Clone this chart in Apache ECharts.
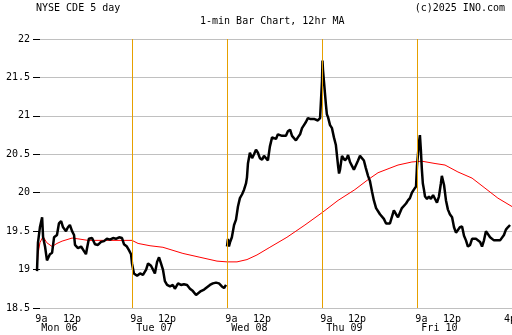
<!DOCTYPE html>
<html><head><meta charset="utf-8">
<script src="https://cdn.jsdelivr.net/npm/echarts@6/dist/echarts.min.js"></script>
<style>html,body{margin:0;padding:0;background:#fff}#c{width:512px;height:335px}</style>
</head><body><div id="c"></div>
<script>
// x values are trading-minute indices counted from Mon 9:30 (390 minutes per session)
const dayNames = ['Mon 06', 'Tue 07', 'Wed 08', 'Thu 09', 'Fri 10'];
const sessionMinutes = 390;
const sessionStarts = [390, 780, 1170, 1560];
const yMin = 18.5, yMax = 22, yStep = 0.5;

const priceMon = [[0,18.98],[4,19.35],[12,19.55],[21,19.68],[25,19.42],[33,19.3],[41,19.12],[45,19.1],[53,19.2],[62,19.22],[70,19.42],[82,19.45],[90,19.6],[99,19.63],[107,19.55],[119,19.5],[127,19.55],[135,19.58],[144,19.5],[152,19.45],[156,19.32],[168,19.28],[181,19.3],[193,19.24],[201,19.2],[205,19.27],[213,19.4],[226,19.41],[238,19.33],[250,19.32],[263,19.36],[275,19.37],[287,19.4],[300,19.39],[312,19.41],[324,19.4],[337,19.42],[349,19.41],[357,19.33],[369,19.3],[378,19.25],[386,19.2]];
const priceTue = [[390,19.08],[398,18.95],[411,18.92],[423,18.95],[435,18.93],[448,19.0],[456,19.08],[468,19.05],[476,19.07],[484,18.95],[493,19.1],[501,19.16],[509,19.08],[517,19.0],[525,18.85],[534,18.8],[546,18.78],[558,18.8],[566,18.75],[579,18.82],[591,18.8],[603,18.81],[616,18.8],[628,18.75],[640,18.72],[653,18.67],[661,18.68],[673,18.72],[686,18.74],[698,18.77],[710,18.8],[722,18.82],[735,18.83],[747,18.82],[759,18.78],[768,18.76],[776,18.8]];
const priceWed = [[780,19.3],[784,19.4],[788,19.3],[792,19.35],[800,19.42],[809,19.58],[817,19.65],[825,19.82],[833,19.93],[842,19.98],[850,20.04],[858,20.12],[862,20.2],[866,20.38],[874,20.52],[883,20.45],[891,20.5],[899,20.56],[907,20.52],[915,20.45],[924,20.43],[932,20.48],[940,20.5],[948,20.42],[956,20.6],[965,20.72],[973,20.73],[981,20.7],[989,20.76],[997,20.78],[1006,20.74],[1014,20.76],[1022,20.74],[1030,20.8],[1039,20.82],[1047,20.74],[1055,20.72],[1063,20.68],[1071,20.72],[1080,20.76],[1088,20.84],[1096,20.88],[1104,20.92],[1112,20.97],[1121,20.96],[1129,20.94],[1137,20.96],[1145,20.95],[1153,20.94],[1162,20.97],[1166,20.98]];
const priceThu = [[1170,21.45],[1172,21.72],[1174,21.6],[1178,21.45],[1182,21.3],[1186,21.15],[1190,21.02],[1195,20.98],[1203,20.88],[1211,20.84],[1219,20.72],[1227,20.62],[1231,20.5],[1236,20.35],[1240,20.25],[1244,20.3],[1252,20.48],[1256,20.5],[1264,20.42],[1272,20.45],[1277,20.49],[1285,20.4],[1293,20.35],[1301,20.3],[1309,20.32],[1318,20.42],[1326,20.48],[1334,20.47],[1342,20.42],[1350,20.32],[1359,20.22],[1367,20.15],[1375,20.02],[1383,19.9],[1392,19.8],[1400,19.78],[1408,19.72],[1416,19.7],[1424,19.66],[1433,19.6],[1441,19.62],[1449,19.6],[1457,19.62],[1465,19.77],[1474,19.72],[1482,19.68],[1490,19.7],[1498,19.8],[1506,19.82],[1515,19.86],[1523,19.9],[1531,19.93],[1539,20.0],[1547,20.04],[1556,20.08]];
const priceFri = [[1560,20.35],[1564,20.5],[1568,20.65],[1572,20.75],[1576,20.55],[1580,20.3],[1584,20.12],[1588,20.05],[1593,19.95],[1601,19.92],[1609,19.95],[1617,19.92],[1626,19.97],[1634,19.95],[1642,19.87],[1650,19.95],[1658,20.12],[1662,20.22],[1671,20.1],[1679,19.9],[1687,19.78],[1695,19.72],[1704,19.68],[1712,19.55],[1720,19.48],[1728,19.47],[1736,19.55],[1745,19.56],[1753,19.44],[1761,19.38],[1769,19.3],[1778,19.32],[1786,19.4],[1794,19.42],[1802,19.4],[1810,19.42],[1819,19.36],[1827,19.3],[1835,19.38],[1843,19.5],[1851,19.48],[1860,19.42],[1868,19.4],[1876,19.38],[1884,19.36],[1892,19.38],[1901,19.38],[1909,19.37],[1917,19.45],[1925,19.52],[1933,19.55],[1942,19.58]];

const ma12 = [[0,19.0],[4,19.2],[12,19.35],[25,19.43],[40,19.35],[62,19.3],[82,19.34],[103,19.37],[144,19.41],[168,19.4],[209,19.38],[267,19.38],[390,19.38],[415,19.34],[464,19.31],[517,19.29],[599,19.21],[669,19.16],[739,19.11],[780,19.1],[821,19.1],[862,19.13],[903,19.19],[956,19.29],[1026,19.42],[1100,19.58],[1170,19.74],[1236,19.9],[1305,20.04],[1359,20.17],[1400,20.26],[1449,20.32],[1482,20.36],[1539,20.4],[1580,20.41],[1634,20.38],[1675,20.36],[1728,20.27],[1786,20.19],[1839,20.06],[1892,19.93],[1950,19.82]];

const priceData = [].concat(priceMon, priceTue, [[778,'-']], priceWed, priceThu, priceFri);
const totalMinutes = sessionMinutes * dayNames.length;

const FONT = 'DejaVu Sans Mono';
const timeLabelPos = [];
const dayLabelPos = [];
for (let d = 0; d < dayNames.length; d++) {
  timeLabelPos.push(d * sessionMinutes + 18, d * sessionMinutes + 144);
  dayLabelPos.push(d * sessionMinutes + 92);
}
timeLabelPos.push(totalMinutes - 8);

const chart = echarts.init(document.getElementById('c'), null, {renderer: 'canvas'});
function makeX(extra) {
  return Object.assign({
    type: 'value', min: 0, max: totalMinutes, gridIndex: 0, position: 'bottom',
    axisLine: {show: false}, axisTick: {show: false}, splitLine: {show: false}
  }, extra);
}
const titleStyle = {fontFamily: FONT, fontSize: 10, fontWeight: 'normal', color: '#000'};
chart.setOption({
  animation: false,
  backgroundColor: '#ffffff',
  title: [
    {text: 'NYSE CDE 5 day', left: 36, top: 3, padding: 0, textStyle: titleStyle},
    {text: '(c)2025 INO.com', right: 7, top: 3, padding: 0, textStyle: titleStyle},
    {text: '1-min Bar Chart, 12hr MA', left: 200, top: 16, padding: 0, textStyle: titleStyle}
  ],
  grid: {left: 37, right: 0, top: 39, bottom: 27, containLabel: false, outerBoundsMode: 'none'},
  xAxis: [
    makeX({axisLabel: {show: false}}),
    makeX({axisLabel: {show: true, customValues: timeLabelPos, margin: 6, fontFamily: FONT, fontSize: 10, color: '#000',
        formatter: function (v) { if (v > totalMinutes - 30) return '4p'; return (v % sessionMinutes) < 60 ? '9a' : '12p'; }}}),
    makeX({axisLabel: {show: true, customValues: dayLabelPos, margin: 15, fontFamily: FONT, fontSize: 10, color: '#000',
        formatter: function (v) { return dayNames[Math.floor(v / sessionMinutes)]; }}})
  ],
  yAxis: [
    {type: 'value', min: yMin, max: yMax, interval: yStep, position: 'left',
      axisLine: {show: false},
      axisTick: {show: true, inside: true, length: 3, lineStyle: {color: '#000'}},
      splitLine: {show: true, lineStyle: {color: '#c0c0c0', width: 1}},
      axisLabel: {margin: 7, fontFamily: FONT, fontSize: 10, color: '#000'}},
    {type: 'value', min: yMin, max: yMax, interval: yStep, position: 'right',
      axisLine: {show: false},
      axisTick: {show: true, inside: true, length: 4, lineStyle: {color: '#000'}},
      splitLine: {show: false}, axisLabel: {show: false}}
  ],
  series: [
    {type: 'line', name: 'MA', data: ma12, xAxisIndex: 0, yAxisIndex: 0, showSymbol: false, symbol: 'none',
      lineStyle: {color: '#ff0000', width: 1}, z: 3,
      markLine: {silent: true, symbol: 'none', label: {show: false},
        lineStyle: {color: '#e6a000', width: 1, type: 'solid'},
        data: sessionStarts.map(function (m) { return {xAxis: m}; })}},
    {type: 'line', name: 'CDE', data: priceData, xAxisIndex: 0, yAxisIndex: 0, showSymbol: false, symbol: 'none',
      connectNulls: false, lineStyle: {color: '#000000', width: 2.5}, z: 4}
  ]
});
</script>
</body></html>
